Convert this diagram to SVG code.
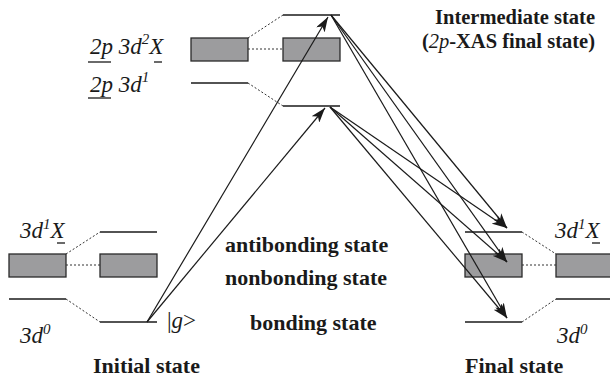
<svg xmlns="http://www.w3.org/2000/svg" width="610" height="380" viewBox="0 0 610 380">
  <style>
    .lvl { stroke: #1a1a1a; stroke-width: 1.5; fill: none; }
    .band { fill: #9c9c9e; stroke: #2a2a2a; stroke-width: 1.3; }
    .dot { stroke: #333; stroke-width: 1; stroke-dasharray: 2 2; fill: none; }
    .arr { stroke: #1a1a1a; stroke-width: 1.2; fill: none; marker-end: url(#head); }
    .it { font-family: "Liberation Serif", "Times New Roman", serif; font-style: italic; font-size: 23px; fill: #1a1a1a; }
    .bd { font-family: "Liberation Serif", "Times New Roman", serif; font-weight: bold; font-size: 22px; fill: #1a1a1a; }
    .hd { font-size: 20.5px; }
    .ul { stroke: #1a1a1a; stroke-width: 1.3; }
  </style>
  <defs>
    <marker id="head" markerUnits="userSpaceOnUse" markerWidth="16" markerHeight="10" refX="15" refY="5" orient="auto">
      <path d="M0,0 L15,5 L0,10 L4,5 Z" fill="#1a1a1a"/>
    </marker>
  </defs>
  <rect width="610" height="380" fill="#ffffff"/>

  <!-- initial state (left) -->
  <g id="initial-state">
    <text class="it" x="20" y="238">3d<tspan font-size="15" dy="-9">1</tspan><tspan dy="9">X</tspan></text>
    <line class="ul" x1="57" y1="243" x2="65" y2="243"/>
    <rect class="band" x="9" y="254" width="57" height="23"/>
    <line class="lvl" x1="9" y1="299" x2="66" y2="299"/>
    <text class="it" x="20" y="343">3d<tspan font-size="15" dy="-9">0</tspan></text>
    <line class="lvl" x1="100" y1="232" x2="157" y2="232"/>
    <rect class="band" x="100" y="254" width="57" height="23"/>
    <line class="lvl" x1="100" y1="322" x2="157" y2="322"/>
    <text class="it" x="167" y="328"><tspan font-style="normal">|</tspan>g<tspan font-style="normal">&gt;</tspan></text>
    <text class="bd" x="93" y="373">Initial state</text>
  </g>

  <!-- intermediate state (top) -->
  <g id="intermediate-state">
    <text class="it" x="90" y="54">2p 3d<tspan font-size="15" dy="-10">2</tspan><tspan dy="10">X</tspan></text>
    <line class="ul" x1="88" y1="62" x2="111" y2="62"/>
    <line class="ul" x1="154" y1="62" x2="162" y2="62"/>
    <text class="it" x="90" y="92">2p 3d<tspan font-size="15" dy="-10">1</tspan></text>
    <line class="ul" x1="88" y1="98" x2="111" y2="98"/>
    <rect class="band" x="191" y="38" width="57" height="23"/>
    <line class="lvl" x1="191" y1="83" x2="248" y2="83"/>
    <line class="lvl" x1="283" y1="15" x2="340" y2="15"/>
    <rect class="band" x="283" y="38" width="57" height="23"/>
    <line class="lvl" x1="283" y1="106" x2="340" y2="106"/>
    <text class="bd hd" x="595" y="24" text-anchor="end">Intermediate state</text>
    <text class="bd hd" x="595" y="48" text-anchor="end">(<tspan font-weight="normal" font-style="italic">2p</tspan>-XAS final state)</text>
  </g>

  <!-- final state (right) -->
  <g id="final-state">
    <line class="lvl" x1="465" y1="232" x2="522" y2="232"/>
    <rect class="band" x="465" y="254" width="57" height="23"/>
    <line class="lvl" x1="465" y1="322" x2="522" y2="322"/>
    <rect class="band" x="556" y="254" width="60" height="23"/>
    <line class="lvl" x1="556" y1="299" x2="612" y2="299"/>
    <text class="it" x="555" y="238">3d<tspan font-size="15" dy="-9">1</tspan><tspan dy="9">X</tspan></text>
    <line class="ul" x1="592" y1="243" x2="600" y2="243"/>
    <text class="it" x="557" y="343">3d<tspan font-size="15" dy="-9">0</tspan></text>
    <text class="bd" x="465" y="373">Final state</text>
  </g>

  <!-- state character labels -->
  <g id="labels">
    <text class="bd" x="225" y="252">antibonding state</text>
    <text class="bd" x="225" y="285">nonbonding state</text>
    <text class="bd" x="250" y="330">bonding state</text>
  </g>

  <!-- hybridisation guides and transitions -->
  <g id="connectors">
    <line class="dot" x1="248" y1="38" x2="283" y2="15"/>
    <line class="dot" x1="248" y1="49" x2="283" y2="49"/>
    <line class="dot" x1="248" y1="83" x2="283" y2="106"/>
    <line class="dot" x1="66" y1="254" x2="100" y2="232"/>
    <line class="dot" x1="66" y1="265" x2="100" y2="265"/>
    <line class="dot" x1="66" y1="299" x2="100" y2="322"/>
    <line class="dot" x1="522" y1="232" x2="556" y2="254"/>
    <line class="dot" x1="522" y1="265" x2="556" y2="265"/>
    <line class="dot" x1="522" y1="322" x2="556" y2="299"/>

    <!-- absorption -->
    <line class="arr" x1="147" y1="322" x2="328" y2="17"/>
    <line class="arr" x1="147" y1="322" x2="325" y2="108"/>

    <!-- emission -->
    <line class="arr" x1="331" y1="15" x2="507" y2="228"/>
    <line class="arr" x1="331" y1="15" x2="507" y2="262"/>
    <line class="arr" x1="331" y1="15" x2="507" y2="318"/>
    <line class="arr" x1="330" y1="107" x2="507" y2="228"/>
    <line class="arr" x1="330" y1="107" x2="507" y2="262"/>
    <line class="arr" x1="330" y1="107" x2="507" y2="318"/>
  </g>
</svg>
